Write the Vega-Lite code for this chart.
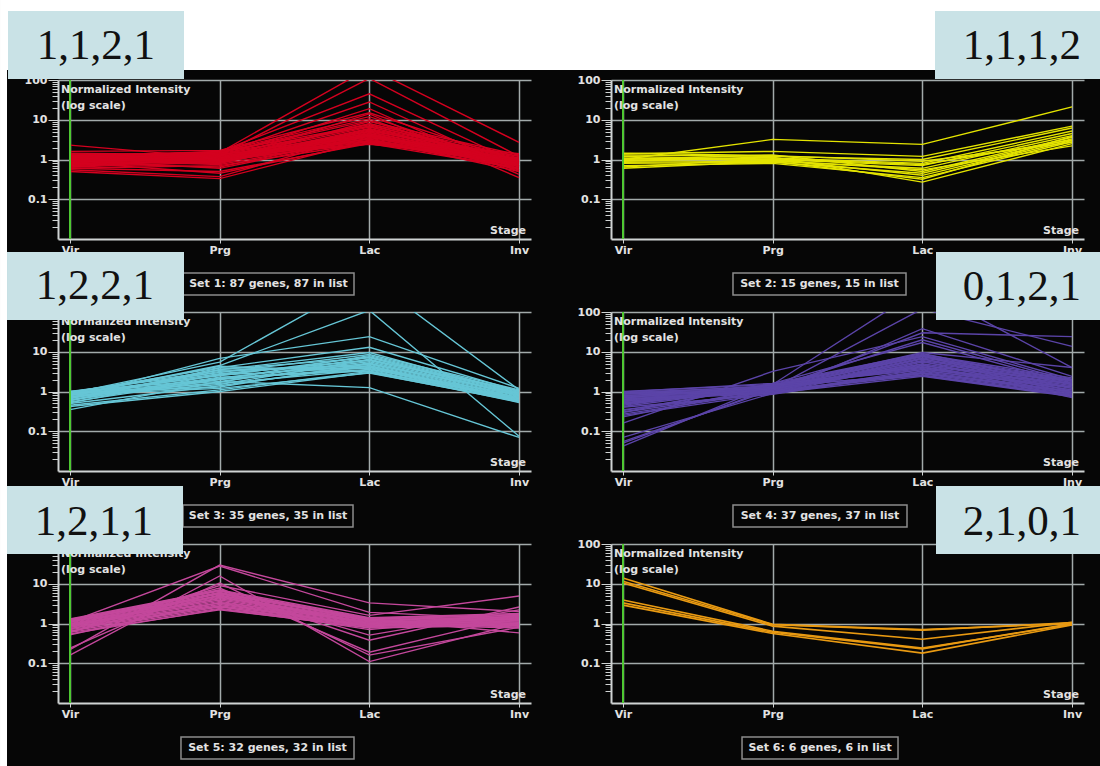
{
"$schema": "https://vega.github.io/schema/vega-lite/v6.json",
"background": "#060606",
"padding": 0,
"columns": 2,
"spacing": {"row": 73, "column": 80},
"bounds": "flush",
"config": {
  "view": {"fill": "#060606", "stroke": null},
  "font": "DejaVu Sans",
  "axis": {"labelFont": "DejaVu Sans", "labelFontSize": 11, "labelFontWeight": "bold", "labelColor": "#e2e2e2", "domainColor": "#cfd3d3", "domainWidth": 2, "tickColor": "#cfd3d3", "gridColor": "#a2aaaa", "gridWidth": 1.5, "title": null}
},
"datasets": {"genes": [
{"s":1,"g":1,"Vir":2.3,"Prg":1.1,"Lac":8,"Inv":1.0},
{"s":1,"g":2,"Vir":1.6,"Prg":1.7,"Lac":15,"Inv":0.9},
{"s":1,"g":3,"Vir":0.5,"Prg":0.33,"Lac":3.0,"Inv":0.9},
{"s":1,"g":4,"Vir":0.55,"Prg":0.37,"Lac":4.5,"Inv":0.7},
{"s":1,"g":5,"Vir":0.6,"Prg":0.5,"Lac":2.5,"Inv":0.6},
{"s":1,"g":6,"Vir":1.0,"Prg":1.5,"Lac":200,"Inv":2.7},
{"s":1,"g":7,"Vir":0.9,"Prg":1.3,"Lac":110,"Inv":1.2},
{"s":1,"g":8,"Vir":1.2,"Prg":1.6,"Lac":45,"Inv":0.8},
{"s":1,"g":9,"Vir":0.8,"Prg":1.4,"Lac":28,"Inv":0.55},
{"s":1,"g":10,"Vir":1.1,"Prg":1.2,"Lac":19,"Inv":0.42},
{"s":1,"g":11,"Vir":0.7,"Prg":1.0,"Lac":14,"Inv":0.35},
{"s":1,"g":12,"Vir":1.3,"Prg":1.5,"Lac":10.5,"Inv":0.5},
{"s":1,"g":13,"Vir":0.75,"Prg":0.9,"Lac":9,"Inv":1.3},
{"s":1,"g":14,"Vir":0.95,"Prg":1.0,"Lac":8,"Inv":1.2},
{"s":1,"g":15,"Vir":1.05,"Prg":1.3,"Lac":7,"Inv":1.1},
{"s":1,"g":16,"Vir":0.85,"Prg":1.1,"Lac":6.5,"Inv":1.0},
{"s":1,"g":17,"Vir":1.15,"Prg":0.95,"Lac":6,"Inv":0.95},
{"s":1,"g":18,"Vir":0.65,"Prg":0.85,"Lac":5.5,"Inv":0.9},
{"s":1,"g":19,"Vir":1.4,"Prg":1.2,"Lac":5,"Inv":0.85},
{"s":1,"g":20,"Vir":0.9,"Prg":0.8,"Lac":4.8,"Inv":0.8},
{"s":1,"g":21,"Vir":1.0,"Prg":1.05,"Lac":4.5,"Inv":0.75},
{"s":1,"g":22,"Vir":1.2,"Prg":1.1,"Lac":4.2,"Inv":0.7},
{"s":1,"g":23,"Vir":0.8,"Prg":0.9,"Lac":4,"Inv":0.65},
{"s":1,"g":24,"Vir":0.7,"Prg":1.2,"Lac":3.8,"Inv":0.6},
{"s":1,"g":25,"Vir":1.1,"Prg":1.0,"Lac":3.6,"Inv":1.05},
{"s":1,"g":26,"Vir":0.95,"Prg":0.75,"Lac":3.4,"Inv":0.9},
{"s":1,"g":27,"Vir":1.25,"Prg":1.35,"Lac":3.2,"Inv":0.8},
{"s":1,"g":28,"Vir":0.85,"Prg":1.15,"Lac":3.0,"Inv":0.7},
{"s":1,"g":29,"Vir":1.0,"Prg":0.9,"Lac":2.8,"Inv":0.85},
{"s":1,"g":30,"Vir":0.6,"Prg":0.7,"Lac":2.6,"Inv":0.75},
{"s":1,"g":31,"Vir":1.3,"Prg":1.0,"Lac":2.5,"Inv":0.95},
{"s":1,"g":32,"Vir":0.9,"Prg":1.25,"Lac":2.4,"Inv":1.1},
{"s":1,"g":33,"Vir":1.05,"Prg":0.8,"Lac":5.2,"Inv":1.2},
{"s":1,"g":34,"Vir":0.75,"Prg":1.4,"Lac":6.8,"Inv":0.6},
{"s":1,"g":35,"Vir":1.15,"Prg":1.55,"Lac":7.5,"Inv":0.85},
{"s":1,"g":36,"Vir":0.8,"Prg":0.65,"Lac":3.9,"Inv":1.0},
{"s":1,"g":37,"Vir":1.45,"Prg":1.3,"Lac":4.4,"Inv":0.55},
{"s":1,"g":38,"Vir":0.7,"Prg":0.95,"Lac":3.3,"Inv":0.5},
{"s":1,"g":39,"Vir":1.0,"Prg":1.45,"Lac":9.5,"Inv":0.65},
{"s":1,"g":40,"Vir":0.9,"Prg":1.05,"Lac":2.9,"Inv":0.6},
{"s":1,"g":41,"Vir":1.2,"Prg":0.85,"Lac":5.8,"Inv":0.75},
{"s":1,"g":42,"Vir":0.65,"Prg":1.1,"Lac":4.1,"Inv":0.9},
{"s":1,"g":43,"Vir":1.1,"Prg":1.6,"Lac":12,"Inv":0.7},
{"s":1,"g":44,"Vir":0.95,"Prg":0.6,"Lac":3.5,"Inv":1.4},
{"s":1,"g":45,"Vir":0.85,"Prg":0.45,"Lac":2.7,"Inv":0.8},
{"s":2,"g":1,"Vir":1.0,"Prg":3.2,"Lac":2.4,"Inv":21},
{"s":2,"g":2,"Vir":1.4,"Prg":1.6,"Lac":1.2,"Inv":6.9},
{"s":2,"g":3,"Vir":1.3,"Prg":1.2,"Lac":1.0,"Inv":6.2},
{"s":2,"g":4,"Vir":0.9,"Prg":1.1,"Lac":0.8,"Inv":5.2},
{"s":2,"g":5,"Vir":1.1,"Prg":1.0,"Lac":0.7,"Inv":4.5},
{"s":2,"g":6,"Vir":0.6,"Prg":0.9,"Lac":0.6,"Inv":4.0},
{"s":2,"g":7,"Vir":1.0,"Prg":1.3,"Lac":0.5,"Inv":3.6},
{"s":2,"g":8,"Vir":0.8,"Prg":0.85,"Lac":0.45,"Inv":3.3},
{"s":2,"g":9,"Vir":1.2,"Prg":1.0,"Lac":0.4,"Inv":3.0},
{"s":2,"g":10,"Vir":0.7,"Prg":0.8,"Lac":0.35,"Inv":2.8},
{"s":2,"g":11,"Vir":0.95,"Prg":1.15,"Lac":0.27,"Inv":2.5},
{"s":2,"g":12,"Vir":1.05,"Prg":0.95,"Lac":0.55,"Inv":2.2},
{"s":2,"g":13,"Vir":0.65,"Prg":1.05,"Lac":0.75,"Inv":3.1},
{"s":2,"g":14,"Vir":1.45,"Prg":1.25,"Lac":0.9,"Inv":2.7},
{"s":2,"g":15,"Vir":0.85,"Prg":0.9,"Lac":0.32,"Inv":3.8},
{"s":3,"g":1,"Vir":0.9,"Prg":5.5,"Lac":700,"Inv":1.1},
{"s":3,"g":2,"Vir":0.8,"Prg":4.5,"Lac":110,"Inv":0.075},
{"s":3,"g":3,"Vir":0.7,"Prg":6.8,"Lac":24,"Inv":1.2},
{"s":3,"g":4,"Vir":0.95,"Prg":4.0,"Lac":13,"Inv":1.0},
{"s":3,"g":5,"Vir":0.6,"Prg":3.5,"Lac":9.6,"Inv":0.9},
{"s":3,"g":6,"Vir":0.35,"Prg":1.8,"Lac":1.25,"Inv":0.07},
{"s":3,"g":7,"Vir":0.42,"Prg":1.0,"Lac":3.0,"Inv":0.55},
{"s":3,"g":8,"Vir":1.0,"Prg":3.0,"Lac":8.5,"Inv":1.1},
{"s":3,"g":9,"Vir":0.55,"Prg":2.0,"Lac":8.0,"Inv":1.0},
{"s":3,"g":10,"Vir":0.9,"Prg":2.5,"Lac":7.5,"Inv":0.95},
{"s":3,"g":11,"Vir":0.65,"Prg":3.6,"Lac":7.0,"Inv":0.9},
{"s":3,"g":12,"Vir":0.75,"Prg":1.5,"Lac":6.5,"Inv":0.85},
{"s":3,"g":13,"Vir":0.85,"Prg":2.8,"Lac":6.0,"Inv":0.8},
{"s":3,"g":14,"Vir":0.6,"Prg":2.2,"Lac":5.6,"Inv":0.75},
{"s":3,"g":15,"Vir":0.95,"Prg":1.8,"Lac":5.2,"Inv":0.7},
{"s":3,"g":16,"Vir":0.7,"Prg":3.2,"Lac":4.8,"Inv":0.68},
{"s":3,"g":17,"Vir":0.5,"Prg":1.4,"Lac":4.5,"Inv":0.65},
{"s":3,"g":18,"Vir":0.8,"Prg":2.6,"Lac":4.2,"Inv":0.62},
{"s":3,"g":19,"Vir":1.0,"Prg":2.0,"Lac":4.0,"Inv":0.6},
{"s":3,"g":20,"Vir":0.58,"Prg":3.9,"Lac":3.8,"Inv":0.58},
{"s":3,"g":21,"Vir":0.88,"Prg":1.6,"Lac":3.5,"Inv":0.55},
{"s":3,"g":22,"Vir":0.68,"Prg":2.3,"Lac":3.3,"Inv":0.53},
{"s":3,"g":23,"Vir":0.78,"Prg":4.3,"Lac":3.1,"Inv":0.72},
{"s":3,"g":24,"Vir":0.92,"Prg":1.3,"Lac":5.0,"Inv":0.9},
{"s":3,"g":25,"Vir":0.52,"Prg":2.7,"Lac":6.2,"Inv":1.05},
{"s":3,"g":26,"Vir":0.73,"Prg":1.7,"Lac":7.2,"Inv":0.78},
{"s":3,"g":27,"Vir":0.97,"Prg":3.4,"Lac":4.4,"Inv":0.6},
{"s":3,"g":28,"Vir":0.62,"Prg":2.1,"Lac":3.6,"Inv":0.82},
{"s":3,"g":29,"Vir":0.83,"Prg":1.2,"Lac":2.9,"Inv":0.58},
{"s":3,"g":30,"Vir":0.45,"Prg":1.1,"Lac":3.2,"Inv":0.66},
{"s":4,"g":1,"Vir":0.042,"Prg":1.5,"Lac":400,"Inv":4.0},
{"s":4,"g":2,"Vir":0.05,"Prg":1.2,"Lac":120,"Inv":13.6},
{"s":4,"g":3,"Vir":0.055,"Prg":1.1,"Lac":30,"Inv":24},
{"s":4,"g":4,"Vir":0.07,"Prg":0.9,"Lac":38,"Inv":2.4},
{"s":4,"g":5,"Vir":0.16,"Prg":3.2,"Lac":24,"Inv":2.0},
{"s":4,"g":6,"Vir":0.23,"Prg":1.3,"Lac":20,"Inv":1.8},
{"s":4,"g":7,"Vir":0.3,"Prg":1.6,"Lac":17,"Inv":1.6},
{"s":4,"g":8,"Vir":0.5,"Prg":1.4,"Lac":9.6,"Inv":4.0},
{"s":4,"g":9,"Vir":1.0,"Prg":1.5,"Lac":8.5,"Inv":2.2},
{"s":4,"g":10,"Vir":0.95,"Prg":1.3,"Lac":8.0,"Inv":2.0},
{"s":4,"g":11,"Vir":0.9,"Prg":1.2,"Lac":7.5,"Inv":1.9},
{"s":4,"g":12,"Vir":0.85,"Prg":1.1,"Lac":7.0,"Inv":1.8},
{"s":4,"g":13,"Vir":0.8,"Prg":1.0,"Lac":6.5,"Inv":1.7},
{"s":4,"g":14,"Vir":0.75,"Prg":0.95,"Lac":6.0,"Inv":1.6},
{"s":4,"g":15,"Vir":0.7,"Prg":0.9,"Lac":5.5,"Inv":1.5},
{"s":4,"g":16,"Vir":0.65,"Prg":1.05,"Lac":5.0,"Inv":1.4},
{"s":4,"g":17,"Vir":0.6,"Prg":1.15,"Lac":4.6,"Inv":1.3},
{"s":4,"g":18,"Vir":0.55,"Prg":1.25,"Lac":4.2,"Inv":1.2},
{"s":4,"g":19,"Vir":0.5,"Prg":1.35,"Lac":3.8,"Inv":1.1},
{"s":4,"g":20,"Vir":0.45,"Prg":1.45,"Lac":3.5,"Inv":1.0},
{"s":4,"g":21,"Vir":0.4,"Prg":0.85,"Lac":3.2,"Inv":0.95},
{"s":4,"g":22,"Vir":0.35,"Prg":0.95,"Lac":3.0,"Inv":0.9},
{"s":4,"g":23,"Vir":0.3,"Prg":1.05,"Lac":2.8,"Inv":0.85},
{"s":4,"g":24,"Vir":0.27,"Prg":1.0,"Lac":2.6,"Inv":0.8},
{"s":4,"g":25,"Vir":0.25,"Prg":0.9,"Lac":2.4,"Inv":0.75},
{"s":4,"g":26,"Vir":0.98,"Prg":1.6,"Lac":9.0,"Inv":1.5},
{"s":4,"g":27,"Vir":0.88,"Prg":1.4,"Lac":8.2,"Inv":1.2},
{"s":4,"g":28,"Vir":0.72,"Prg":1.2,"Lac":7.8,"Inv":1.0},
{"s":4,"g":29,"Vir":0.62,"Prg":1.0,"Lac":6.8,"Inv":0.9},
{"s":4,"g":30,"Vir":0.52,"Prg":1.1,"Lac":5.8,"Inv":0.8},
{"s":4,"g":31,"Vir":0.42,"Prg":1.3,"Lac":4.8,"Inv":0.7},
{"s":4,"g":32,"Vir":0.33,"Prg":1.5,"Lac":4.0,"Inv":1.1},
{"s":4,"g":33,"Vir":0.92,"Prg":0.88,"Lac":3.3,"Inv":1.3},
{"s":4,"g":34,"Vir":0.78,"Prg":1.25,"Lac":2.9,"Inv":1.0},
{"s":4,"g":35,"Vir":0.68,"Prg":1.45,"Lac":2.5,"Inv":0.78},
{"s":4,"g":36,"Vir":0.58,"Prg":0.92,"Lac":3.6,"Inv":1.6},
{"s":4,"g":37,"Vir":0.48,"Prg":1.18,"Lac":4.4,"Inv":1.9},
{"s":5,"g":1,"Vir":0.22,"Prg":29.6,"Lac":3.3,"Inv":2.0},
{"s":5,"g":2,"Vir":0.16,"Prg":15.7,"Lac":0.11,"Inv":1.0},
{"s":5,"g":3,"Vir":0.24,"Prg":10.4,"Lac":0.16,"Inv":0.8},
{"s":5,"g":4,"Vir":0.9,"Prg":7.8,"Lac":0.19,"Inv":1.5},
{"s":5,"g":5,"Vir":1.1,"Prg":28,"Lac":1.9,"Inv":1.3},
{"s":5,"g":6,"Vir":1.2,"Prg":7.0,"Lac":0.38,"Inv":2.6},
{"s":5,"g":7,"Vir":0.8,"Prg":6.0,"Lac":0.51,"Inv":2.2},
{"s":5,"g":8,"Vir":0.6,"Prg":9.0,"Lac":1.6,"Inv":4.9},
{"s":5,"g":9,"Vir":1.3,"Prg":7.0,"Lac":1.4,"Inv":1.8},
{"s":5,"g":10,"Vir":1.25,"Prg":6.5,"Lac":1.35,"Inv":1.7},
{"s":5,"g":11,"Vir":1.2,"Prg":6.0,"Lac":1.3,"Inv":1.6},
{"s":5,"g":12,"Vir":1.15,"Prg":5.5,"Lac":1.25,"Inv":1.5},
{"s":5,"g":13,"Vir":1.1,"Prg":5.0,"Lac":1.2,"Inv":1.45},
{"s":5,"g":14,"Vir":1.05,"Prg":4.6,"Lac":1.15,"Inv":1.4},
{"s":5,"g":15,"Vir":1.0,"Prg":4.2,"Lac":1.1,"Inv":1.35},
{"s":5,"g":16,"Vir":0.95,"Prg":3.9,"Lac":1.05,"Inv":1.3},
{"s":5,"g":17,"Vir":0.9,"Prg":3.6,"Lac":1.0,"Inv":1.25},
{"s":5,"g":18,"Vir":0.85,"Prg":3.3,"Lac":0.95,"Inv":1.2},
{"s":5,"g":19,"Vir":0.8,"Prg":3.0,"Lac":0.92,"Inv":1.15},
{"s":5,"g":20,"Vir":0.75,"Prg":2.8,"Lac":0.9,"Inv":1.1},
{"s":5,"g":21,"Vir":0.7,"Prg":2.6,"Lac":0.87,"Inv":1.05},
{"s":5,"g":22,"Vir":0.65,"Prg":2.4,"Lac":0.84,"Inv":1.0},
{"s":5,"g":23,"Vir":0.6,"Prg":2.2,"Lac":0.8,"Inv":0.95},
{"s":5,"g":24,"Vir":0.55,"Prg":2.3,"Lac":0.77,"Inv":0.9},
{"s":5,"g":25,"Vir":0.52,"Prg":3.4,"Lac":1.1,"Inv":0.85},
{"s":5,"g":26,"Vir":1.28,"Prg":4.8,"Lac":0.95,"Inv":0.77},
{"s":5,"g":27,"Vir":0.72,"Prg":5.8,"Lac":1.3,"Inv":0.58},
{"s":5,"g":28,"Vir":0.98,"Prg":2.7,"Lac":0.7,"Inv":1.6},
{"s":5,"g":29,"Vir":0.88,"Prg":4.4,"Lac":1.2,"Inv":0.8},
{"s":5,"g":30,"Vir":1.18,"Prg":3.2,"Lac":0.85,"Inv":1.75},
{"s":5,"g":31,"Vir":0.62,"Prg":5.2,"Lac":1.0,"Inv":1.3},
{"s":5,"g":32,"Vir":1.08,"Prg":6.8,"Lac":1.15,"Inv":1.0},
{"s":6,"g":1,"Vir":14,"Prg":0.95,"Lac":0.7,"Inv":1.0},
{"s":6,"g":2,"Vir":11.6,"Prg":0.93,"Lac":0.68,"Inv":1.05},
{"s":6,"g":3,"Vir":10.5,"Prg":0.86,"Lac":0.4,"Inv":1.08},
{"s":6,"g":4,"Vir":3.9,"Prg":0.64,"Lac":0.24,"Inv":0.95},
{"s":6,"g":5,"Vir":3.3,"Prg":0.6,"Lac":0.23,"Inv":1.0},
{"s":6,"g":6,"Vir":2.9,"Prg":0.56,"Lac":0.18,"Inv":0.92}
]},
"concat": [
{
 "width": 473, "height": 159,
 "data": {"values": [{}]},
 "resolve": {"scale": {"x": "independent", "y": "independent"}},
 "layer": [
  {"mark": {"type": "rect", "fill": "#ffffff"}, "encoding": {"x": {"datum": -0.1226, "type": "quantitative", "scale": {"domain": [0, 1]}, "axis": null}, "x2": {"datum": 2.25}, "y": {"datum": 1.503, "type": "quantitative", "scale": {"domain": [0, 1]}, "axis": null}, "y2": {"datum": 1.0629}}},
  {"mark": {"type": "rect", "fill": "#ffffff"}, "encoding": {"x": {"datum": -0.1226, "type": "quantitative", "scale": {"domain": [0, 1]}, "axis": null}, "x2": {"datum": -0.1078}, "y": {"datum": 1.0629, "type": "quantitative", "scale": {"domain": [0, 1]}, "axis": null}, "y2": {"datum": -3.4}}},
  {
   "data": {"name": "genes"},
   "transform": [{"filter": "datum.s == 1"}, {"fold": ["Vir", "Prg", "Lac", "Inv"], "as": ["stage", "value"]}],
   "mark": {"type": "line", "clip": true, "strokeWidth": 1.4, "color": "#d4001f"},
   "encoding": {
    "x": {"field": "stage", "type": "nominal", "scale": {"type": "point", "domain": ["Vir", "Prg", "Lac", "Inv"], "padding": 0.08}, "axis": {"labelAngle": 0, "tickSize": 4, "labelPadding": 1, "grid": true}},
    "y": {"field": "value", "type": "quantitative", "scale": {"type": "log", "domain": [0.01, 100], "nice": false}, "axis": {"values": [0.02,0.03,0.04,0.05,0.06,0.07,0.08,0.09,0.1,0.2,0.3,0.4,0.5,0.6,0.7,0.8,0.9,1,2,3,4,5,6,7,8,9,10,20,30,40,50,60,70,80,90,100], "labelExpr": "datum.value == 100 ? '100' : datum.value == 10 ? '10' : datum.value == 1 ? '1' : datum.value == 0.1 ? '0.1' : ''", "labelOverlap": false, "labelFlush": false, "labelPadding": 1, "grid": true, "tickSize": {"condition": {"test": "datum.value == 0.1 || datum.value == 1 || datum.value == 10 || datum.value == 100", "value": 10}, "value": 6}, "gridOpacity": {"condition": {"test": "datum.value == 0.1 || datum.value == 1 || datum.value == 10 || datum.value == 100", "value": 1}, "value": 0}}},
    "detail": {"field": "g", "type": "nominal"},
    "order": {"value": null}
   }
  },
  {"mark": {"type": "rule", "color": "#4ec832", "strokeWidth": 2}, "encoding": {"x": {"datum": "Vir", "type": "nominal", "scale": {"type": "point", "domain": ["Vir", "Prg", "Lac", "Inv"], "padding": 0.08}, "axis": null}, "y": {"datum": 0, "type": "quantitative", "scale": {"domain": [0, 1]}, "axis": null}, "y2": {"datum": 1}}},
  {"mark": {"type": "text", "align": "left", "baseline": "top", "lineHeight": 16, "fontSize": 11, "fontWeight": "bold", "color": "#e2e2e2"}, "encoding": {"x": {"datum": 0.0063, "type": "quantitative", "scale": {"domain": [0, 1]}, "axis": null}, "y": {"datum": 0.9717, "type": "quantitative", "scale": {"domain": [0, 1]}, "axis": null}, "text": {"value": ["Normalized Intensity", "(log scale)"]}}},
  {"mark": {"type": "text", "align": "right", "baseline": "middle", "fontSize": 11, "fontWeight": "bold", "color": "#e2e2e2"}, "encoding": {"x": {"datum": 0.9894, "type": "quantitative", "scale": {"domain": [0, 1]}, "axis": null}, "y": {"datum": 0.0503, "type": "quantitative", "scale": {"domain": [0, 1]}, "axis": null}, "text": {"value": "Stage"}}},
  {"mark": {"type": "rect", "fill": "#060606", "stroke": "#8c8c8c", "strokeWidth": 1.5}, "encoding": {"x": {"datum": 0.2643, "type": "quantitative", "scale": {"domain": [0, 1]}, "axis": null}, "x2": {"datum": 0.6258}, "y": {"datum": -0.2138, "type": "quantitative", "scale": {"domain": [0, 1]}, "axis": null}, "y2": {"datum": -0.3522}}},
  {"mark": {"type": "text", "align": "center", "baseline": "middle", "fontSize": 11, "fontWeight": "bold", "color": "#e2e2e2"}, "encoding": {"x": {"datum": 0.445, "type": "quantitative", "scale": {"domain": [0, 1]}, "axis": null}, "y": {"datum": -0.283, "type": "quantitative", "scale": {"domain": [0, 1]}, "axis": null}, "text": {"value": "Set 1: 87 genes, 87 in list"}}},
  {"mark": {"type": "rect", "fill": "#c9e2e6"}, "encoding": {"x": {"datum": -0.1057, "type": "quantitative", "scale": {"domain": [0, 1]}, "axis": null}, "x2": {"datum": 0.2664}, "y": {"datum": 1.434, "type": "quantitative", "scale": {"domain": [0, 1]}, "axis": null}, "y2": {"datum": 1.0063}}},
  {"mark": {"type": "text", "align": "center", "baseline": "alphabetic", "font": "Liberation Serif", "fontSize": 43, "color": "#111111"}, "encoding": {"x": {"datum": 0.0803, "type": "quantitative", "scale": {"domain": [0, 1]}, "axis": null}, "y": {"datum": 1.1321, "type": "quantitative", "scale": {"domain": [0, 1]}, "axis": null}, "text": {"value": "1,1,2,1"}}}
 ]
},
{
 "width": 473, "height": 159,
 "data": {"values": [{}]},
 "resolve": {"scale": {"x": "independent", "y": "independent"}},
 "layer": [
  {
   "data": {"name": "genes"},
   "transform": [{"filter": "datum.s == 2"}, {"fold": ["Vir", "Prg", "Lac", "Inv"], "as": ["stage", "value"]}],
   "mark": {"type": "line", "clip": true, "strokeWidth": 1.4, "color": "#e4e400"},
   "encoding": {
    "x": {"field": "stage", "type": "nominal", "scale": {"type": "point", "domain": ["Vir", "Prg", "Lac", "Inv"], "padding": 0.08}, "axis": {"labelAngle": 0, "tickSize": 4, "labelPadding": 1, "grid": true}},
    "y": {"field": "value", "type": "quantitative", "scale": {"type": "log", "domain": [0.01, 100], "nice": false}, "axis": {"values": [0.02,0.03,0.04,0.05,0.06,0.07,0.08,0.09,0.1,0.2,0.3,0.4,0.5,0.6,0.7,0.8,0.9,1,2,3,4,5,6,7,8,9,10,20,30,40,50,60,70,80,90,100], "labelExpr": "datum.value == 100 ? '100' : datum.value == 10 ? '10' : datum.value == 1 ? '1' : datum.value == 0.1 ? '0.1' : ''", "labelOverlap": false, "labelFlush": false, "labelPadding": 1, "grid": true, "tickSize": {"condition": {"test": "datum.value == 0.1 || datum.value == 1 || datum.value == 10 || datum.value == 100", "value": 10}, "value": 6}, "gridOpacity": {"condition": {"test": "datum.value == 0.1 || datum.value == 1 || datum.value == 10 || datum.value == 100", "value": 1}, "value": 0}}},
    "detail": {"field": "g", "type": "nominal"},
    "order": {"value": null}
   }
  },
  {"mark": {"type": "rule", "color": "#4ec832", "strokeWidth": 2}, "encoding": {"x": {"datum": "Vir", "type": "nominal", "scale": {"type": "point", "domain": ["Vir", "Prg", "Lac", "Inv"], "padding": 0.08}, "axis": null}, "y": {"datum": 0, "type": "quantitative", "scale": {"domain": [0, 1]}, "axis": null}, "y2": {"datum": 1}}},
  {"mark": {"type": "text", "align": "left", "baseline": "top", "lineHeight": 16, "fontSize": 11, "fontWeight": "bold", "color": "#e2e2e2"}, "encoding": {"x": {"datum": 0.0063, "type": "quantitative", "scale": {"domain": [0, 1]}, "axis": null}, "y": {"datum": 0.9717, "type": "quantitative", "scale": {"domain": [0, 1]}, "axis": null}, "text": {"value": ["Normalized Intensity", "(log scale)"]}}},
  {"mark": {"type": "text", "align": "right", "baseline": "middle", "fontSize": 11, "fontWeight": "bold", "color": "#e2e2e2"}, "encoding": {"x": {"datum": 0.9894, "type": "quantitative", "scale": {"domain": [0, 1]}, "axis": null}, "y": {"datum": 0.0503, "type": "quantitative", "scale": {"domain": [0, 1]}, "axis": null}, "text": {"value": "Stage"}}},
  {"mark": {"type": "rect", "fill": "#060606", "stroke": "#8c8c8c", "strokeWidth": 1.5}, "encoding": {"x": {"datum": 0.2579, "type": "quantitative", "scale": {"domain": [0, 1]}, "axis": null}, "x2": {"datum": 0.6237}, "y": {"datum": -0.2138, "type": "quantitative", "scale": {"domain": [0, 1]}, "axis": null}, "y2": {"datum": -0.3522}}},
  {"mark": {"type": "text", "align": "center", "baseline": "middle", "fontSize": 11, "fontWeight": "bold", "color": "#e2e2e2"}, "encoding": {"x": {"datum": 0.4408, "type": "quantitative", "scale": {"domain": [0, 1]}, "axis": null}, "y": {"datum": -0.283, "type": "quantitative", "scale": {"domain": [0, 1]}, "axis": null}, "text": {"value": "Set 2: 15 genes, 15 in list"}}},
  {"mark": {"type": "rect", "fill": "#c9e2e6"}, "encoding": {"x": {"datum": 0.685, "type": "quantitative", "scale": {"domain": [0, 1]}, "axis": null}, "x2": {"datum": 1.04}, "y": {"datum": 1.434, "type": "quantitative", "scale": {"domain": [0, 1]}, "axis": null}, "y2": {"datum": 1.0063}}},
  {"mark": {"type": "text", "align": "center", "baseline": "alphabetic", "font": "Liberation Serif", "fontSize": 43, "color": "#111111"}, "encoding": {"x": {"datum": 0.8689, "type": "quantitative", "scale": {"domain": [0, 1]}, "axis": null}, "y": {"datum": 1.1321, "type": "quantitative", "scale": {"domain": [0, 1]}, "axis": null}, "text": {"value": "1,1,1,2"}}}
 ]
},
{
 "width": 473, "height": 159,
 "data": {"values": [{}]},
 "resolve": {"scale": {"x": "independent", "y": "independent"}},
 "layer": [
  {
   "data": {"name": "genes"},
   "transform": [{"filter": "datum.s == 3"}, {"fold": ["Vir", "Prg", "Lac", "Inv"], "as": ["stage", "value"]}],
   "mark": {"type": "line", "clip": true, "strokeWidth": 1.4, "color": "#66c6d6"},
   "encoding": {
    "x": {"field": "stage", "type": "nominal", "scale": {"type": "point", "domain": ["Vir", "Prg", "Lac", "Inv"], "padding": 0.08}, "axis": {"labelAngle": 0, "tickSize": 4, "labelPadding": 1, "grid": true}},
    "y": {"field": "value", "type": "quantitative", "scale": {"type": "log", "domain": [0.01, 100], "nice": false}, "axis": {"values": [0.02,0.03,0.04,0.05,0.06,0.07,0.08,0.09,0.1,0.2,0.3,0.4,0.5,0.6,0.7,0.8,0.9,1,2,3,4,5,6,7,8,9,10,20,30,40,50,60,70,80,90,100], "labelExpr": "datum.value == 100 ? '100' : datum.value == 10 ? '10' : datum.value == 1 ? '1' : datum.value == 0.1 ? '0.1' : ''", "labelOverlap": false, "labelFlush": false, "labelPadding": 1, "grid": true, "tickSize": {"condition": {"test": "datum.value == 0.1 || datum.value == 1 || datum.value == 10 || datum.value == 100", "value": 10}, "value": 6}, "gridOpacity": {"condition": {"test": "datum.value == 0.1 || datum.value == 1 || datum.value == 10 || datum.value == 100", "value": 1}, "value": 0}}},
    "detail": {"field": "g", "type": "nominal"},
    "order": {"value": null}
   }
  },
  {"mark": {"type": "rule", "color": "#4ec832", "strokeWidth": 2}, "encoding": {"x": {"datum": "Vir", "type": "nominal", "scale": {"type": "point", "domain": ["Vir", "Prg", "Lac", "Inv"], "padding": 0.08}, "axis": null}, "y": {"datum": 0, "type": "quantitative", "scale": {"domain": [0, 1]}, "axis": null}, "y2": {"datum": 1}}},
  {"mark": {"type": "text", "align": "left", "baseline": "top", "lineHeight": 16, "fontSize": 11, "fontWeight": "bold", "color": "#e2e2e2"}, "encoding": {"x": {"datum": 0.0063, "type": "quantitative", "scale": {"domain": [0, 1]}, "axis": null}, "y": {"datum": 0.9717, "type": "quantitative", "scale": {"domain": [0, 1]}, "axis": null}, "text": {"value": ["Normalized Intensity", "(log scale)"]}}},
  {"mark": {"type": "text", "align": "right", "baseline": "middle", "fontSize": 11, "fontWeight": "bold", "color": "#e2e2e2"}, "encoding": {"x": {"datum": 0.9894, "type": "quantitative", "scale": {"domain": [0, 1]}, "axis": null}, "y": {"datum": 0.0503, "type": "quantitative", "scale": {"domain": [0, 1]}, "axis": null}, "text": {"value": "Stage"}}},
  {"mark": {"type": "rect", "fill": "#060606", "stroke": "#8c8c8c", "strokeWidth": 1.5}, "encoding": {"x": {"datum": 0.2643, "type": "quantitative", "scale": {"domain": [0, 1]}, "axis": null}, "x2": {"datum": 0.6237}, "y": {"datum": -0.2138, "type": "quantitative", "scale": {"domain": [0, 1]}, "axis": null}, "y2": {"datum": -0.3522}}},
  {"mark": {"type": "text", "align": "center", "baseline": "middle", "fontSize": 11, "fontWeight": "bold", "color": "#e2e2e2"}, "encoding": {"x": {"datum": 0.444, "type": "quantitative", "scale": {"domain": [0, 1]}, "axis": null}, "y": {"datum": -0.283, "type": "quantitative", "scale": {"domain": [0, 1]}, "axis": null}, "text": {"value": "Set 3: 35 genes, 35 in list"}}},
  {"mark": {"type": "rect", "fill": "#c9e2e6"}, "encoding": {"x": {"datum": -0.1078, "type": "quantitative", "scale": {"domain": [0, 1]}, "axis": null}, "x2": {"datum": 0.2664}, "y": {"datum": 1.3774, "type": "quantitative", "scale": {"domain": [0, 1]}, "axis": null}, "y2": {"datum": 0.9497}}},
  {"mark": {"type": "text", "align": "center", "baseline": "alphabetic", "font": "Liberation Serif", "fontSize": 43, "color": "#111111"}, "encoding": {"x": {"datum": 0.0782, "type": "quantitative", "scale": {"domain": [0, 1]}, "axis": null}, "y": {"datum": 1.0818, "type": "quantitative", "scale": {"domain": [0, 1]}, "axis": null}, "text": {"value": "1,2,2,1"}}}
 ]
},
{
 "width": 473, "height": 159,
 "data": {"values": [{}]},
 "resolve": {"scale": {"x": "independent", "y": "independent"}},
 "layer": [
  {
   "data": {"name": "genes"},
   "transform": [{"filter": "datum.s == 4"}, {"fold": ["Vir", "Prg", "Lac", "Inv"], "as": ["stage", "value"]}],
   "mark": {"type": "line", "clip": true, "strokeWidth": 1.4, "color": "#5b44a8"},
   "encoding": {
    "x": {"field": "stage", "type": "nominal", "scale": {"type": "point", "domain": ["Vir", "Prg", "Lac", "Inv"], "padding": 0.08}, "axis": {"labelAngle": 0, "tickSize": 4, "labelPadding": 1, "grid": true}},
    "y": {"field": "value", "type": "quantitative", "scale": {"type": "log", "domain": [0.01, 100], "nice": false}, "axis": {"values": [0.02,0.03,0.04,0.05,0.06,0.07,0.08,0.09,0.1,0.2,0.3,0.4,0.5,0.6,0.7,0.8,0.9,1,2,3,4,5,6,7,8,9,10,20,30,40,50,60,70,80,90,100], "labelExpr": "datum.value == 100 ? '100' : datum.value == 10 ? '10' : datum.value == 1 ? '1' : datum.value == 0.1 ? '0.1' : ''", "labelOverlap": false, "labelFlush": false, "labelPadding": 1, "grid": true, "tickSize": {"condition": {"test": "datum.value == 0.1 || datum.value == 1 || datum.value == 10 || datum.value == 100", "value": 10}, "value": 6}, "gridOpacity": {"condition": {"test": "datum.value == 0.1 || datum.value == 1 || datum.value == 10 || datum.value == 100", "value": 1}, "value": 0}}},
    "detail": {"field": "g", "type": "nominal"},
    "order": {"value": null}
   }
  },
  {"mark": {"type": "rule", "color": "#4ec832", "strokeWidth": 2}, "encoding": {"x": {"datum": "Vir", "type": "nominal", "scale": {"type": "point", "domain": ["Vir", "Prg", "Lac", "Inv"], "padding": 0.08}, "axis": null}, "y": {"datum": 0, "type": "quantitative", "scale": {"domain": [0, 1]}, "axis": null}, "y2": {"datum": 1}}},
  {"mark": {"type": "text", "align": "left", "baseline": "top", "lineHeight": 16, "fontSize": 11, "fontWeight": "bold", "color": "#e2e2e2"}, "encoding": {"x": {"datum": 0.0063, "type": "quantitative", "scale": {"domain": [0, 1]}, "axis": null}, "y": {"datum": 0.9717, "type": "quantitative", "scale": {"domain": [0, 1]}, "axis": null}, "text": {"value": ["Normalized Intensity", "(log scale)"]}}},
  {"mark": {"type": "text", "align": "right", "baseline": "middle", "fontSize": 11, "fontWeight": "bold", "color": "#e2e2e2"}, "encoding": {"x": {"datum": 0.9894, "type": "quantitative", "scale": {"domain": [0, 1]}, "axis": null}, "y": {"datum": 0.0503, "type": "quantitative", "scale": {"domain": [0, 1]}, "axis": null}, "text": {"value": "Stage"}}},
  {"mark": {"type": "rect", "fill": "#060606", "stroke": "#8c8c8c", "strokeWidth": 1.5}, "encoding": {"x": {"datum": 0.2579, "type": "quantitative", "scale": {"domain": [0, 1]}, "axis": null}, "x2": {"datum": 0.6258}, "y": {"datum": -0.2138, "type": "quantitative", "scale": {"domain": [0, 1]}, "axis": null}, "y2": {"datum": -0.3522}}},
  {"mark": {"type": "text", "align": "center", "baseline": "middle", "fontSize": 11, "fontWeight": "bold", "color": "#e2e2e2"}, "encoding": {"x": {"datum": 0.4418, "type": "quantitative", "scale": {"domain": [0, 1]}, "axis": null}, "y": {"datum": -0.283, "type": "quantitative", "scale": {"domain": [0, 1]}, "axis": null}, "text": {"value": "Set 4: 37 genes, 37 in list"}}},
  {"mark": {"type": "rect", "fill": "#c9e2e6"}, "encoding": {"x": {"datum": 0.6871, "type": "quantitative", "scale": {"domain": [0, 1]}, "axis": null}, "x2": {"datum": 1.04}, "y": {"datum": 1.3774, "type": "quantitative", "scale": {"domain": [0, 1]}, "axis": null}, "y2": {"datum": 0.9497}}},
  {"mark": {"type": "text", "align": "center", "baseline": "alphabetic", "font": "Liberation Serif", "fontSize": 43, "color": "#111111"}, "encoding": {"x": {"datum": 0.8689, "type": "quantitative", "scale": {"domain": [0, 1]}, "axis": null}, "y": {"datum": 1.0755, "type": "quantitative", "scale": {"domain": [0, 1]}, "axis": null}, "text": {"value": "0,1,2,1"}}}
 ]
},
{
 "width": 473, "height": 159,
 "data": {"values": [{}]},
 "resolve": {"scale": {"x": "independent", "y": "independent"}},
 "layer": [
  {
   "data": {"name": "genes"},
   "transform": [{"filter": "datum.s == 5"}, {"fold": ["Vir", "Prg", "Lac", "Inv"], "as": ["stage", "value"]}],
   "mark": {"type": "line", "clip": true, "strokeWidth": 1.4, "color": "#c4489c"},
   "encoding": {
    "x": {"field": "stage", "type": "nominal", "scale": {"type": "point", "domain": ["Vir", "Prg", "Lac", "Inv"], "padding": 0.08}, "axis": {"labelAngle": 0, "tickSize": 4, "labelPadding": 1, "grid": true}},
    "y": {"field": "value", "type": "quantitative", "scale": {"type": "log", "domain": [0.01, 100], "nice": false}, "axis": {"values": [0.02,0.03,0.04,0.05,0.06,0.07,0.08,0.09,0.1,0.2,0.3,0.4,0.5,0.6,0.7,0.8,0.9,1,2,3,4,5,6,7,8,9,10,20,30,40,50,60,70,80,90,100], "labelExpr": "datum.value == 100 ? '100' : datum.value == 10 ? '10' : datum.value == 1 ? '1' : datum.value == 0.1 ? '0.1' : ''", "labelOverlap": false, "labelFlush": false, "labelPadding": 1, "grid": true, "tickSize": {"condition": {"test": "datum.value == 0.1 || datum.value == 1 || datum.value == 10 || datum.value == 100", "value": 10}, "value": 6}, "gridOpacity": {"condition": {"test": "datum.value == 0.1 || datum.value == 1 || datum.value == 10 || datum.value == 100", "value": 1}, "value": 0}}},
    "detail": {"field": "g", "type": "nominal"},
    "order": {"value": null}
   }
  },
  {"mark": {"type": "rule", "color": "#4ec832", "strokeWidth": 2}, "encoding": {"x": {"datum": "Vir", "type": "nominal", "scale": {"type": "point", "domain": ["Vir", "Prg", "Lac", "Inv"], "padding": 0.08}, "axis": null}, "y": {"datum": 0, "type": "quantitative", "scale": {"domain": [0, 1]}, "axis": null}, "y2": {"datum": 1}}},
  {"mark": {"type": "text", "align": "left", "baseline": "top", "lineHeight": 16, "fontSize": 11, "fontWeight": "bold", "color": "#e2e2e2"}, "encoding": {"x": {"datum": 0.0063, "type": "quantitative", "scale": {"domain": [0, 1]}, "axis": null}, "y": {"datum": 0.9717, "type": "quantitative", "scale": {"domain": [0, 1]}, "axis": null}, "text": {"value": ["Normalized Intensity", "(log scale)"]}}},
  {"mark": {"type": "text", "align": "right", "baseline": "middle", "fontSize": 11, "fontWeight": "bold", "color": "#e2e2e2"}, "encoding": {"x": {"datum": 0.9894, "type": "quantitative", "scale": {"domain": [0, 1]}, "axis": null}, "y": {"datum": 0.0503, "type": "quantitative", "scale": {"domain": [0, 1]}, "axis": null}, "text": {"value": "Stage"}}},
  {"mark": {"type": "rect", "fill": "#060606", "stroke": "#8c8c8c", "strokeWidth": 1.5}, "encoding": {"x": {"datum": 0.26, "type": "quantitative", "scale": {"domain": [0, 1]}, "axis": null}, "x2": {"datum": 0.6258}, "y": {"datum": -0.2138, "type": "quantitative", "scale": {"domain": [0, 1]}, "axis": null}, "y2": {"datum": -0.3522}}},
  {"mark": {"type": "text", "align": "center", "baseline": "middle", "fontSize": 11, "fontWeight": "bold", "color": "#e2e2e2"}, "encoding": {"x": {"datum": 0.4429, "type": "quantitative", "scale": {"domain": [0, 1]}, "axis": null}, "y": {"datum": -0.283, "type": "quantitative", "scale": {"domain": [0, 1]}, "axis": null}, "text": {"value": "Set 5: 32 genes, 32 in list"}}},
  {"mark": {"type": "rect", "fill": "#c9e2e6"}, "encoding": {"x": {"datum": -0.1078, "type": "quantitative", "scale": {"domain": [0, 1]}, "axis": null}, "x2": {"datum": 0.2643}, "y": {"datum": 1.3648, "type": "quantitative", "scale": {"domain": [0, 1]}, "axis": null}, "y2": {"datum": 0.9371}}},
  {"mark": {"type": "text", "align": "center", "baseline": "alphabetic", "font": "Liberation Serif", "fontSize": 43, "color": "#111111"}, "encoding": {"x": {"datum": 0.0761, "type": "quantitative", "scale": {"domain": [0, 1]}, "axis": null}, "y": {"datum": 1.0566, "type": "quantitative", "scale": {"domain": [0, 1]}, "axis": null}, "text": {"value": "1,2,1,1"}}}
 ]
},
{
 "width": 473, "height": 159,
 "data": {"values": [{}]},
 "resolve": {"scale": {"x": "independent", "y": "independent"}},
 "layer": [
  {
   "data": {"name": "genes"},
   "transform": [{"filter": "datum.s == 6"}, {"fold": ["Vir", "Prg", "Lac", "Inv"], "as": ["stage", "value"]}],
   "mark": {"type": "line", "clip": true, "strokeWidth": 1.6, "color": "#e99a12"},
   "encoding": {
    "x": {"field": "stage", "type": "nominal", "scale": {"type": "point", "domain": ["Vir", "Prg", "Lac", "Inv"], "padding": 0.08}, "axis": {"labelAngle": 0, "tickSize": 4, "labelPadding": 1, "grid": true}},
    "y": {"field": "value", "type": "quantitative", "scale": {"type": "log", "domain": [0.01, 100], "nice": false}, "axis": {"values": [0.02,0.03,0.04,0.05,0.06,0.07,0.08,0.09,0.1,0.2,0.3,0.4,0.5,0.6,0.7,0.8,0.9,1,2,3,4,5,6,7,8,9,10,20,30,40,50,60,70,80,90,100], "labelExpr": "datum.value == 100 ? '100' : datum.value == 10 ? '10' : datum.value == 1 ? '1' : datum.value == 0.1 ? '0.1' : ''", "labelOverlap": false, "labelFlush": false, "labelPadding": 1, "grid": true, "tickSize": {"condition": {"test": "datum.value == 0.1 || datum.value == 1 || datum.value == 10 || datum.value == 100", "value": 10}, "value": 6}, "gridOpacity": {"condition": {"test": "datum.value == 0.1 || datum.value == 1 || datum.value == 10 || datum.value == 100", "value": 1}, "value": 0}}},
    "detail": {"field": "g", "type": "nominal"},
    "order": {"value": null}
   }
  },
  {"mark": {"type": "rule", "color": "#4ec832", "strokeWidth": 2}, "encoding": {"x": {"datum": "Vir", "type": "nominal", "scale": {"type": "point", "domain": ["Vir", "Prg", "Lac", "Inv"], "padding": 0.08}, "axis": null}, "y": {"datum": 0, "type": "quantitative", "scale": {"domain": [0, 1]}, "axis": null}, "y2": {"datum": 1}}},
  {"mark": {"type": "text", "align": "left", "baseline": "top", "lineHeight": 16, "fontSize": 11, "fontWeight": "bold", "color": "#e2e2e2"}, "encoding": {"x": {"datum": 0.0063, "type": "quantitative", "scale": {"domain": [0, 1]}, "axis": null}, "y": {"datum": 0.9717, "type": "quantitative", "scale": {"domain": [0, 1]}, "axis": null}, "text": {"value": ["Normalized Intensity", "(log scale)"]}}},
  {"mark": {"type": "text", "align": "right", "baseline": "middle", "fontSize": 11, "fontWeight": "bold", "color": "#e2e2e2"}, "encoding": {"x": {"datum": 0.9894, "type": "quantitative", "scale": {"domain": [0, 1]}, "axis": null}, "y": {"datum": 0.0503, "type": "quantitative", "scale": {"domain": [0, 1]}, "axis": null}, "text": {"value": "Stage"}}},
  {"mark": {"type": "rect", "fill": "#060606", "stroke": "#8c8c8c", "strokeWidth": 1.5}, "encoding": {"x": {"datum": 0.277, "type": "quantitative", "scale": {"domain": [0, 1]}, "axis": null}, "x2": {"datum": 0.6068}, "y": {"datum": -0.2138, "type": "quantitative", "scale": {"domain": [0, 1]}, "axis": null}, "y2": {"datum": -0.3522}}},
  {"mark": {"type": "text", "align": "center", "baseline": "middle", "fontSize": 11, "fontWeight": "bold", "color": "#e2e2e2"}, "encoding": {"x": {"datum": 0.4419, "type": "quantitative", "scale": {"domain": [0, 1]}, "axis": null}, "y": {"datum": -0.283, "type": "quantitative", "scale": {"domain": [0, 1]}, "axis": null}, "text": {"value": "Set 6: 6 genes, 6 in list"}}},
  {"mark": {"type": "rect", "fill": "#c9e2e6"}, "encoding": {"x": {"datum": 0.6871, "type": "quantitative", "scale": {"domain": [0, 1]}, "axis": null}, "x2": {"datum": 1.04}, "y": {"datum": 1.3648, "type": "quantitative", "scale": {"domain": [0, 1]}, "axis": null}, "y2": {"datum": 0.9371}}},
  {"mark": {"type": "text", "align": "center", "baseline": "alphabetic", "font": "Liberation Serif", "fontSize": 43, "color": "#111111"}, "encoding": {"x": {"datum": 0.8689, "type": "quantitative", "scale": {"domain": [0, 1]}, "axis": null}, "y": {"datum": 1.0566, "type": "quantitative", "scale": {"domain": [0, 1]}, "axis": null}, "text": {"value": "2,1,0,1"}}}
 ]
}
]
}
